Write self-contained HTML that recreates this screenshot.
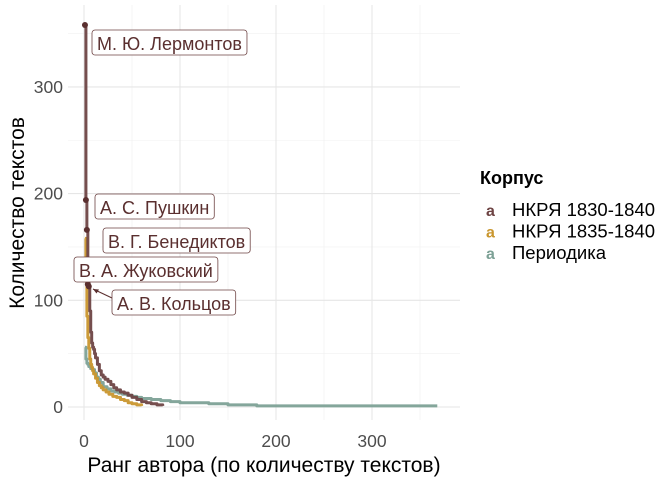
<!DOCTYPE html>
<html><head><meta charset="utf-8"><style>
body{margin:0;background:#fff;font-family:"Liberation Sans",sans-serif}
svg{display:block}
</style></head><body>
<svg id="c" width="672" height="480" xmlns="http://www.w3.org/2000/svg" font-family="Liberation Sans, sans-serif"></svg>
<script>
const xTicks=[0,100,200,300];
const yTicks=[0,100,200,300];
const seriesNames=["НКРЯ 1830-1840","НКРЯ 1835-1840","Периодика"];
const seriesColors=["#6e4444","#c9962e","#7da196"];
const brownRanks=[1,2,3,4,5,6,7,8,9,10,11,12,14,16,18,20,22,25,28,31,34,38,42,46,50,55,60,65,70,76,82];
const brownVals=[356,194,165,117,113,90,70,60,56,54,50,46,40,34,30,28,26,24,21,18,16,14,13,11,9,7,5,4,3,2,1];
const goldRanks=[1,2,3,4,5,6,7,8,9,10,12,14,16,18,20,23,26,30,34,38,42,46,50,55,60];
const goldVals=[158,118,85,65,55,45,40,37,34,31,27,23,20,18,16,14,12,10,9,7,6,4,3,2,1];
const greenRanks=[1,2,3,4,5,7,9,11,13,15,17,20,24,28,32,36,40,45,50,55,60,70,80,90,100,115,130,150,180,250,368];
const greenVals=[56,45,41,40,38,36,35,32,28,26,23,19,17,15,14,13,12,11,10,9,8,7,6,5,4,4,3,2,1,1,1];
const labelNames=["М. Ю. Лермонтов","А. С. Пушкин","В. Г. Бенедиктов","В. А. Жуковский","А. В. Кольцов"];
const labelRanks=[1,2,3,4,5];
const labelVals=[358,194,166,115,113];
const ns="http://www.w3.org/2000/svg";
const svg=document.getElementById('c');
const X0=68,X1=460,Y0=5,Y1=420;
const sx=v=>84+v*0.96, sy=v=>407-v*1.067;
function el(t,a,p){const e=document.createElementNS(ns,t);for(const k in a)e.setAttribute(k,a[k]);(p||svg).appendChild(e);return e;}
const grid=el('g',{});


[50,150,250,350].forEach(v=>el('line',{x1:sx(v),x2:sx(v),y1:Y0,y2:Y1,stroke:'#f0f0f0','stroke-width':0.6},grid));
[50,150,250,350].forEach(v=>el('line',{x1:X0,x2:X1,y1:sy(v),y2:sy(v),stroke:'#f0f0f0','stroke-width':0.6},grid));
xTicks.forEach(v=>{el('line',{x1:sx(v),x2:sx(v),y1:Y0,y2:Y1,stroke:'#e6e6e6','stroke-width':1.1},grid);
 const t=el('text',{x:sx(v),y:447,'text-anchor':'middle','font-size':17.5,fill:'#4d4d4d'});t.textContent=v;
 
 });
yTicks.forEach(v=>{el('line',{x1:X0,x2:X1,y1:sy(v),y2:sy(v),stroke:'#e6e6e6','stroke-width':1.1},grid);
 const t=el('text',{x:63,y:sy(v)+6,'text-anchor':'end','font-size':17.5,fill:'#4d4d4d'});t.textContent=v;
 
 });
function stepPath(r,v){let d='';for(let i=0;i<r.length;i++){const x=sx(r[i]),y=sy(v[i]);if(i==0)d='M'+x+','+y;else d+=' L'+x+','+sy(v[i-1])+' L'+x+','+y;}return d;}
const data=[[greenRanks,greenVals,2],[goldRanks,goldVals,1],[brownRanks,brownVals,0]];
data.forEach(([r,v,i])=>{const p=el('path',{d:stepPath(r,v),fill:'none',stroke:seriesColors[i],'stroke-width':3,'stroke-linejoin':'round','stroke-opacity':0.95});
 
 });
labelRanks.forEach((r,i)=>{const c=el('circle',{cx:sx(r),cy:sy(labelVals[i]),r:3,fill:'#5a2f2f'});
 
 });
el('line',{x1:112,y1:298,x2:93,y2:289,stroke:'#5a2f2f','stroke-width':1});
el('path',{d:'M93,289 l6,0.5 l-2.5,4 z',fill:'#5a2f2f'});
const boxes=[[92,43],[95,207],[103,241],[74,270],[112,303]];
labelNames.forEach((n,i)=>{const g=el('g',{});
 
 
 const t=el('text',{x:boxes[i][0]+5,y:boxes[i][1]+7,'font-size':18,fill:'#5a2f2f'},g);t.textContent=n;
 const w=t.getComputedTextLength();
 el('rect',{x:boxes[i][0],y:boxes[i][1]-13,width:w+10,height:25,rx:3,fill:'#fff',stroke:'#6e4444','stroke-width':0.8},g);
 g.appendChild(t);});
let t=el('text',{x:264,y:472,'text-anchor':'middle','font-size':21,fill:'#000'});t.textContent='Ранг автора (по количеству текстов)';

t=el('text',{x:0,y:0,transform:'translate(24,213) rotate(-90)','text-anchor':'middle','font-size':21,fill:'#000'});t.textContent='Количество текстов';

t=el('text',{x:480,y:184,'font-size':18,'font-weight':'bold',fill:'#000'});t.textContent='Корпус';

seriesNames.forEach((n,i)=>{const g=el('g',{});
 
 
 const y=216+i*21.5;
 const a=el('text',{x:486,y:y,'font-size':16,'font-weight':'bold',fill:seriesColors[i]},g);a.textContent='a';
 const l=el('text',{x:512,y:y,'font-size':18.5,fill:'#000'},g);l.textContent=n;});
</script>
</body></html>
